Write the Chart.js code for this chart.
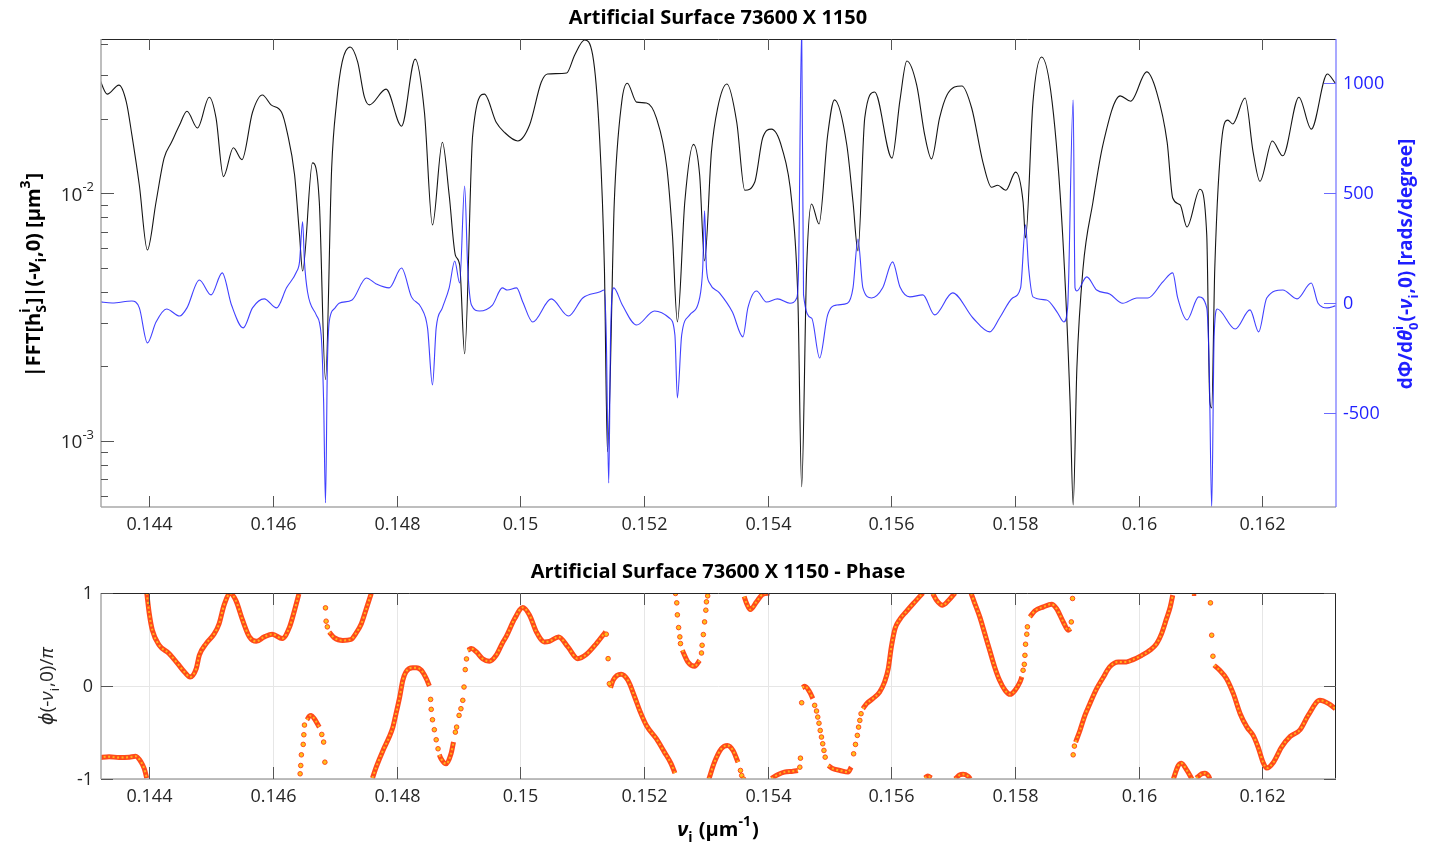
<!DOCTYPE html>
<html>
<head>
<meta charset="utf-8">
<title>Artificial Surface 73600 X 1150</title>
<script src="https://cdn.jsdelivr.net/npm/chart.js@4.4.1/dist/chart.umd.min.js"></script>
<style>
  body { margin: 0; background: #fff; }
  #wrap { position: relative; width: 1429px; height: 850px; background: #fff; }
  canvas { position: absolute; left: 0; }
</style>
</head>
<body>
<div id="wrap">
  <canvas id="magChart" width="1429" height="545" style="top:0"></canvas>
  <canvas id="phaseChart" width="1429" height="305" style="top:545px"></canvas>
</div>
<script>
"use strict";

// ---- data ----
const xTicks = [0.144, 0.146, 0.148, 0.150, 0.152, 0.154, 0.156, 0.158, 0.160, 0.162];
const xTickLabels = ['0.144', '0.146', '0.148', '0.15', '0.152', '0.154', '0.156', '0.158', '0.16', '0.162'];
const magTicks = [0.001, 0.01];
const magTickExp = ['-3', '-2'];
const slopeTicks = [-500, 0, 500, 1000];
const slopeTickLabels = ['-500', '0', '500', '1000'];
const phaseTicks = [-1, 0, 1];
const phaseTickLabels = ['-1', '0', '1'];

// |FFT| magnitude (black, log axis)
const magX = [
  0.14319, 0.14332, 0.14351, 0.14363, 0.14372, 0.14384, 0.14397, 0.14411, 0.14424, 0.14436,
  0.14449, 0.14461, 0.14478, 0.14497, 0.14508, 0.14520, 0.14536, 0.14550, 0.14567, 0.14583,
  0.14597, 0.14614, 0.14623, 0.14635, 0.14643, 0.14648, 0.14664, 0.14675, 0.14685, 0.14695,
  0.14703, 0.14712, 0.14725, 0.14737, 0.14748, 0.14756, 0.14783, 0.14808, 0.14830, 0.14845,
  0.14858, 0.14874, 0.14885, 0.14895, 0.14902, 0.14910, 0.14923, 0.14942, 0.14961, 0.14974,
  0.14996, 0.15015, 0.15034, 0.15044, 0.15075, 0.15088, 0.15104, 0.15117, 0.15128, 0.15136,
  0.15141, 0.15152, 0.15164, 0.15173, 0.15188, 0.15204, 0.15220, 0.15237, 0.15246, 0.15254,
  0.15266, 0.15280, 0.15290, 0.15298, 0.15309, 0.15319, 0.15334, 0.15350, 0.15363, 0.15379,
  0.15392, 0.15406, 0.15423, 0.15439, 0.15449, 0.15455, 0.15463, 0.15471, 0.15483, 0.15497,
  0.15508, 0.15528, 0.15538, 0.15546, 0.15557, 0.15573, 0.15601, 0.15614, 0.15625, 0.15641,
  0.15654, 0.15665, 0.15678, 0.15690, 0.15714, 0.15730, 0.15748, 0.15762, 0.15772, 0.15785,
  0.15801, 0.15813, 0.15817, 0.15829, 0.15843, 0.15860, 0.15877, 0.15889, 0.15894, 0.15900,
  0.15910, 0.15926, 0.15942, 0.15970, 0.15987, 0.16013, 0.16029, 0.16046, 0.16055, 0.16067,
  0.16078, 0.16099, 0.16110, 0.16115, 0.16118, 0.16123, 0.16135, 0.16144, 0.16152, 0.16172,
  0.16185, 0.16196, 0.16216, 0.16233, 0.16259, 0.16279, 0.16305, 0.16318
];
const magY = [
  0.0293, 0.0252, 0.0274, 0.0234, 0.0172, 0.0108, 0.00591, 0.00924, 0.0139, 0.0161,
  0.0189, 0.0215, 0.0184, 0.0245, 0.0202, 0.0117, 0.0153, 0.0137, 0.0213, 0.0250,
  0.0228, 0.0213, 0.0177, 0.0119, 0.00680, 0.00486, 0.0133, 0.00924, 0.00177, 0.0127,
  0.0234, 0.0340, 0.0391, 0.0340, 0.0245, 0.0228, 0.0264, 0.0187, 0.0349, 0.0213,
  0.00746, 0.0161, 0.00986, 0.00564, 0.00514, 0.00225, 0.0172, 0.0252, 0.0194, 0.0177,
  0.0163, 0.0189, 0.0282, 0.0304, 0.0307, 0.0363, 0.0417, 0.0363, 0.0172, 0.00500,
  0.000904, 0.00924, 0.0234, 0.0279, 0.0234, 0.0232, 0.0202, 0.0127, 0.00680, 0.00303,
  0.00924, 0.0158, 0.0119, 0.00534, 0.0147, 0.0221, 0.0277, 0.0194, 0.0103, 0.0111,
  0.0168, 0.0182, 0.0153, 0.00924, 0.00365, 0.000653, 0.00500, 0.00907, 0.00753, 0.0172,
  0.0239, 0.0157, 0.00924, 0.00586, 0.0202, 0.0257, 0.0139, 0.0239, 0.0343, 0.0274,
  0.0172, 0.0138, 0.0202, 0.0250, 0.0272, 0.0221, 0.0134, 0.0106, 0.0108, 0.0103,
  0.0122, 0.00924, 0.00661, 0.0234, 0.0356, 0.0234, 0.00680, 0.00144, 0.000552, 0.00197,
  0.00500, 0.00924, 0.0157, 0.0248, 0.0236, 0.0310, 0.0257, 0.0161, 0.00959, 0.00899,
  0.00732, 0.0104, 0.00680, 0.00144, 0.00136, 0.00500, 0.0172, 0.0198, 0.0191, 0.0243,
  0.0147, 0.0112, 0.0163, 0.0142, 0.0245, 0.0182, 0.0304, 0.0279
];

// dPhi/dtheta slope (blue, right axis)
const slopeX = [
  0.14319, 0.14340, 0.14372, 0.14384, 0.14397, 0.14411, 0.14428, 0.14449, 0.14461, 0.14481,
  0.14500, 0.14518, 0.14533, 0.14552, 0.14567, 0.14586, 0.14606, 0.14622, 0.14638, 0.14643,
  0.14648, 0.14651, 0.14656, 0.14670, 0.14678, 0.14682, 0.14685, 0.14688, 0.14691, 0.14699,
  0.14707, 0.14728, 0.14751, 0.14767, 0.14788, 0.14808, 0.14824, 0.14840, 0.14850, 0.14858,
  0.14864, 0.14874, 0.14885, 0.14894, 0.14902, 0.14910, 0.14915, 0.14921, 0.14934, 0.14955,
  0.14971, 0.14979, 0.14994, 0.15004, 0.15020, 0.15050, 0.15078, 0.15101, 0.15128, 0.15136,
  0.15139, 0.15143, 0.15146, 0.15151, 0.15165, 0.15188, 0.15217, 0.15241, 0.15250, 0.15254,
  0.15261, 0.15274, 0.15290, 0.15295, 0.15298, 0.15301, 0.15306, 0.15322, 0.15343, 0.15360,
  0.15368, 0.15382, 0.15398, 0.15416, 0.15436, 0.15447, 0.15450, 0.15455, 0.15458, 0.15471,
  0.15484, 0.15497, 0.15512, 0.15529, 0.15538, 0.15546, 0.15554, 0.15568, 0.15586, 0.15602,
  0.15614, 0.15630, 0.15651, 0.15670, 0.15699, 0.15732, 0.15759, 0.15775, 0.15796, 0.15809,
  0.15817, 0.15822, 0.15829, 0.15851, 0.15868, 0.15879, 0.15885, 0.15894, 0.15897, 0.15900,
  0.15916, 0.15932, 0.15953, 0.15974, 0.15997, 0.16015, 0.16039, 0.16055, 0.16063, 0.16078,
  0.16097, 0.16110, 0.16114, 0.16118, 0.16122, 0.16127, 0.16156, 0.16180, 0.16194, 0.16207,
  0.16233, 0.16256, 0.16279, 0.16290, 0.16305, 0.16318
];
const slopeY = [
  7, 1, 10, -21, -180, -85, -26, -58, -21, 106,
  38, 138, -8, -112, -21, 20, -21, 70, 142, 188,
  370, 188, 51, -53, -144, -449, -907, -294, -85, -26,
  0, 15, 115, 88, 70, 160, 29, -21, -112, -371,
  -112, -21, 70, 192, 92, 533, 160, -8, -35, -8,
  70, 60, 70, 6, -85, 20, -58, 24, 51, 60,
  -144, -817, -144, 70, -8, -99, -35, -67, -144, -430,
  -144, -53, 24, 160, 420, 160, 92, 47, -40, -153,
  -21, 56, 6, 20, 0, 24, 160, 1250, 38, -67,
  -249, -53, -8, 0, 70, 292, 70, 24, 70, 188,
  74, 29, 38, -53, 47, -67, -130, -67, 24, 70,
  356, 160, 29, 15, -40, -85, -21, 924, 70, 56,
  120, 60, 42, 0, 24, 24, 97, 138, 24, -76,
  29, -21, -294, -930, -144, -26, -117, -30, -130, 24,
  60, 20, 92, 0, -21, -12
];

// phase / pi : continuous runs (wrapped at +-1)
const phaseSegX = [
  [0.14319, 0.14335, 0.14351, 0.14368, 0.14378, 0.14387, 0.14392, 0.14396],
  [0.14396, 0.14400, 0.14405, 0.14416, 0.14432, 0.14446, 0.14457, 0.14466, 0.14476, 0.14481,
   0.14492, 0.14505, 0.14513, 0.14521, 0.14531, 0.14540, 0.14551, 0.14562, 0.14573, 0.14586,
   0.14599, 0.14615, 0.14627, 0.14635, 0.14642],
  [0.14655, 0.14659, 0.14662, 0.14667, 0.14675],
  [0.14691, 0.14699, 0.14713, 0.14726, 0.14734, 0.14743, 0.14751, 0.14759],
  [0.14761, 0.14767, 0.14778, 0.14788, 0.14794, 0.14799, 0.14805, 0.14810, 0.14815, 0.14826,
   0.14832, 0.14840, 0.14848, 0.14853],
  [0.14869, 0.14872, 0.14880, 0.14888, 0.14892],
  [0.14915, 0.14921, 0.14929, 0.14939, 0.14950, 0.14961, 0.14972, 0.14977, 0.14991, 0.15004,
   0.15015, 0.15026, 0.15039, 0.15047, 0.15062, 0.15077, 0.15093, 0.15107, 0.15123, 0.15138],
  [0.15146, 0.15150, 0.15163, 0.15174, 0.15185, 0.15193, 0.15204, 0.15220, 0.15233, 0.15244, 0.15250],
  [0.15262, 0.15271, 0.15282, 0.15290],
  [0.15305, 0.15314, 0.15325, 0.15335, 0.15344, 0.15352],
  [0.15362, 0.15366, 0.15372, 0.15382, 0.15392, 0.15403],
  [0.15406, 0.15417, 0.15427, 0.15441, 0.15449],
  [0.15456, 0.15460, 0.15468, 0.15473],
  [0.15498, 0.15506, 0.15517, 0.15530, 0.15535],
  [0.15554, 0.15560, 0.15570, 0.15581, 0.15589, 0.15595, 0.15600, 0.15606, 0.15614, 0.15624,
   0.15638, 0.15651],
  [0.15654, 0.15659, 0.15665],
  [0.15667, 0.15673, 0.15683, 0.15692, 0.15703],
  [0.15703, 0.15711, 0.15716, 0.15724, 0.15728],
  [0.15729, 0.15735, 0.15743, 0.15751, 0.15759, 0.15767, 0.15775, 0.15784, 0.15792, 0.15800,
   0.15808, 0.15811],
  [0.15824, 0.15832, 0.15846, 0.15859, 0.15867, 0.15878, 0.15886, 0.15890],
  [0.15898, 0.15905, 0.15913, 0.15921, 0.15932, 0.15943, 0.15953, 0.15967, 0.15980, 0.15991,
   0.16005, 0.16018, 0.16029, 0.16037, 0.16045, 0.16051, 0.16055],
  [0.16056, 0.16064, 0.16069, 0.16078, 0.16086],
  [0.16086, 0.16093],
  [0.16093, 0.16102, 0.16107, 0.16113, 0.16115],
  [0.16122, 0.16131, 0.16142, 0.16153, 0.16164, 0.16175, 0.16185, 0.16193, 0.16201, 0.16207,
   0.16218, 0.16231, 0.16245, 0.16261, 0.16274, 0.16293, 0.16307, 0.16318]
];
const phaseSegY = [
  [-0.77, -0.76, -0.77, -0.765, -0.755, -0.82, -0.89, -0.99],
  [1.0, 0.78, 0.60, 0.44, 0.35, 0.24, 0.15, 0.097, 0.187, 0.33,
   0.456, 0.56, 0.67, 0.87, 0.995, 0.92, 0.707, 0.528, 0.48, 0.528,
   0.557, 0.51, 0.636, 0.815, 0.99],
  [-0.363, -0.323, -0.316, -0.352, -0.442],
  [0.58, 0.52, 0.49, 0.5, 0.564, 0.67, 0.83, 0.995],
  [-0.99, -0.873, -0.693, -0.549, -0.442, -0.298, -0.118, 0.061, 0.151, 0.197,
   0.197, 0.169, 0.079, 0.0],
  [-0.74, -0.783, -0.837, -0.729, -0.603],
  [0.384, 0.402, 0.366, 0.294, 0.266, 0.33, 0.474, 0.528, 0.725, 0.844,
   0.761, 0.582, 0.474, 0.48, 0.528, 0.42, 0.294, 0.341, 0.456, 0.582],
  [-0.018, 0.061, 0.126, 0.061, -0.118, -0.262, -0.424, -0.567, -0.711, -0.837, -0.937],
  [0.384, 0.259, 0.212, 0.276],
  [-1.0, -0.819, -0.675, -0.639, -0.693, -0.819],
  [0.962, 0.887, 0.822, 0.905, 0.987, 1.0],
  [-0.995, -0.952, -0.926, -0.916, -0.908],
  [-0.018, -0.004, -0.065, -0.136],
  [-0.855, -0.89, -0.908, -0.926, -0.873],
  [-0.244, -0.19, -0.136, -0.065, 0.043, 0.187, 0.42, 0.618, 0.72, 0.80,
   0.905, 1.0],
  [-0.99, -0.969, -0.99],
  [0.995, 0.923, 0.869, 0.916, 1.0],
  [-1.0, -0.955, -0.95, -0.97, -1.0],
  [0.995, 0.887, 0.743, 0.564, 0.384, 0.205, 0.061, -0.047, -0.09, -0.047,
   0.043, 0.097],
  [0.743, 0.808, 0.851, 0.88, 0.833, 0.689, 0.6, 0.618],
  [-0.603, -0.478, -0.316, -0.19, -0.029, 0.097, 0.205, 0.259, 0.259, 0.284,
   0.33, 0.384, 0.456, 0.564, 0.725, 0.851, 0.977],
  [-1.0, -0.855, -0.83, -0.908, -1.0],
  [0.995, 0.995],
  [-0.99, -0.944, -0.937, -0.97, -1.0],
  [0.223, 0.169, 0.079, -0.083, -0.298, -0.442, -0.531, -0.657, -0.819, -0.883,
   -0.819, -0.657, -0.542, -0.47, -0.316, -0.154, -0.19, -0.244]
];

// phase / pi : isolated samples on the steep parts
const dotX = [
  0.14644, 0.14645, 0.14646, 0.14649, 0.14650, 0.14651, 0.14679, 0.14682, 0.14684,
  0.14685, 0.14686, 0.14688,
  0.14855, 0.14856, 0.14858, 0.14861, 0.14864, 0.14867,
  0.14895, 0.14897, 0.14901, 0.14904, 0.14907, 0.14909, 0.14911, 0.14913,
  0.15139, 0.15142, 0.15144,
  0.15251, 0.15253, 0.15254, 0.15256, 0.15258, 0.15259,
  0.15293, 0.15294, 0.15296, 0.15298, 0.15300, 0.15301, 0.15303,
  0.15356, 0.15358, 0.15361,
  0.15452, 0.15453, 0.15455,
  0.15476, 0.15479, 0.15481, 0.15483, 0.15485, 0.15487, 0.15489, 0.15491, 0.15493,
  0.15539, 0.15542, 0.15545, 0.15547, 0.15549, 0.15551,
  0.15813, 0.15815, 0.15816, 0.15817, 0.15819, 0.15820,
  0.15891, 0.15893, 0.15894, 0.15896,
  0.16116, 0.16118, 0.16120
];
const dotY = [
  -0.944, -0.855, -0.74, -0.628, -0.524, -0.42, -0.521, -0.603, -0.819,
  0.84, 0.697, 0.636,
  -0.144, -0.251, -0.363, -0.47, -0.578, -0.675,
  -0.496, -0.442, -0.316, -0.244, -0.154, -0.011, 0.176, 0.291,
  0.557, 0.294, 0.025,
  0.995, 0.894, 0.765, 0.628, 0.528, 0.456,
  0.355, 0.438, 0.553, 0.689, 0.815, 0.905, 0.969,
  -0.908, -0.962, -1.0,
  -0.873, -0.776, -0.18,
  -0.208, -0.269, -0.334, -0.4, -0.478, -0.549, -0.621, -0.693, -0.765,
  -0.729, -0.628, -0.531, -0.442, -0.37, -0.298,
  0.169, 0.233, 0.33, 0.449, 0.557, 0.636,
  0.689, 0.941, -0.74, -0.646,
  0.894, 0.546, 0.32
];

// ---- drawing helpers ----
const FAMILY = "'Open Sans', 'DejaVu Sans', sans-serif";
const INK = '#262626';
const BLUE = '#1f1fff';

function fontOf(size, bold, italic) {
  return (italic ? 'italic ' : '') + (bold ? 'bold ' : '') + size + 'px ' + FAMILY;
}

// parts: {t} plain, {t, it} italic, {sup, sub} small raised / lowered text
function drawRich(ctx, parts, x, y, o) {
  const size = o.size;
  const small = Math.round(size * 0.68);
  const widths = parts.map(p => {
    if (p.t !== undefined) {
      ctx.font = fontOf(size, o.bold, p.it);
      return ctx.measureText(p.t).width;
    }
    ctx.font = fontOf(small, o.bold, false);
    return Math.max(ctx.measureText(p.sup || '').width, ctx.measureText(p.sub || '').width) + 1;
  });
  const total = widths.reduce((s, w) => s + w, 0);
  ctx.save();
  ctx.translate(x, y);
  if (o.rotate) ctx.rotate(o.rotate);
  ctx.fillStyle = o.color || INK;
  ctx.textBaseline = 'middle';
  ctx.textAlign = 'left';
  let cx = o.align === 'right' ? -total : (o.align === 'left' ? 0 : -total / 2);
  parts.forEach((p, i) => {
    if (p.t !== undefined) {
      ctx.font = fontOf(size, o.bold, p.it);
      ctx.fillText(p.t, cx, 0);
    } else {
      ctx.font = fontOf(small, o.bold, false);
      if (p.sup) ctx.fillText(p.sup, cx, -size * 0.42);
      if (p.sub) ctx.fillText(p.sub, cx, size * 0.4);
    }
    cx += widths[i];
  });
  ctx.restore();
}

function seg(ctx, x1, y1, x2, y2, color, w) {
  ctx.strokeStyle = color;
  ctx.lineWidth = w;
  ctx.beginPath();
  ctx.moveTo(x1, y1);
  ctx.lineTo(x2, y2);
  ctx.stroke();
}

// ---- top chart: magnitude + slope ----
const magDecor = {
  id: 'magDecor',
  afterDatasetsDraw(chart) {
    const { ctx, chartArea: a, scales } = chart;
    const sx = scales.x, sy = scales.y, sr = scales.y1;
    ctx.save();

    // frame
    seg(ctx, a.left, a.top + 0.5, a.right, a.top + 0.5, INK, 1);
    seg(ctx, a.left, a.bottom, a.right, a.bottom, '#a8a8a8', 1.5);
    seg(ctx, a.left, a.top, a.left, a.bottom, '#a8a8a8', 1.5);
    seg(ctx, a.right, a.top, a.right, a.bottom, '#7070ff', 1.2);

    // x ticks (inside, top and bottom) and labels
    xTicks.forEach((v, i) => {
      const px = Math.round(sx.getPixelForValue(v)) + 0.5;
      seg(ctx, px, a.bottom, px, a.bottom - 11, '#555', 1);
      seg(ctx, px, a.top, px, a.top + 11, '#555', 1);
      drawRich(ctx, [{ t: xTickLabels[i] }], px, 525, { size: 18 });
    });

    // left log ticks: majors, minors
    for (let k = -4; k <= -1; k++) {
      for (let m = 1; m <= 9; m++) {
        const v = m * Math.pow(10, k);
        if (v < sy.min || v > sy.max) continue;
        const py = Math.round(sy.getPixelForValue(v)) + 0.5;
        seg(ctx, a.left, py, a.left + (m === 1 ? 13 : 7), py, '#555', 1);
      }
    }
    magTicks.forEach((v, i) => {
      const py = sy.getPixelForValue(v);
      drawRich(ctx, [{ t: '10' }, { sup: magTickExp[i] }], 95, py + 2, { size: 19, align: 'right' });
    });

    // right linear ticks
    slopeTicks.forEach((v, i) => {
      const py = Math.round(sr.getPixelForValue(v)) + 0.5;
      seg(ctx, a.right, py, a.right - 12, py, '#6a6aff', 1);
      drawRich(ctx, [{ t: slopeTickLabels[i] }], 1343, py, { size: 18, align: 'left', color: BLUE });
    });

    // titles
    drawRich(ctx, [{ t: 'Artificial Surface 73600 X 1150' }], 718, 18, { size: 20, bold: true, color: '#000' });
    drawRich(ctx, [
      { t: '|FFT[h' }, { sup: 'i', sub: 'S' }, { t: ']|(-' }, { t: '\u03BD', it: true },
      { sub: 'i' }, { t: ',0) [\u00B5m' }, { sup: '3' }, { t: ']' }
    ], 34, 275, { size: 20, bold: true, color: '#000', rotate: -Math.PI / 2 });
    drawRich(ctx, [
      { t: 'd\u03A6/d' }, { t: '\u03B8', it: true }, { sup: 'i', sub: '0' }, { t: '(-' },
      { t: '\u03BD', it: true }, { sub: 'i' }, { t: ',0) [rads/degree]' }
    ], 1407, 264, { size: 19, bold: true, color: BLUE, rotate: -Math.PI / 2 });

    ctx.restore();
  }
};

new Chart(document.getElementById('magChart'), {
  type: 'line',
  data: {
    datasets: [
      {
        label: 'slope',
        data: slopeX.map((x, i) => ({ x, y: slopeY[i] })),
        yAxisID: 'y1',
        borderColor: 'rgba(30, 30, 255, 0.85)',
        borderWidth: 1.1,
        pointRadius: 0,
        cubicInterpolationMode: 'monotone'
      },
      {
        label: 'magnitude',
        data: magX.map((x, i) => ({ x, y: magY[i] })),
        yAxisID: 'y',
        borderColor: '#151515',
        borderWidth: 1.1,
        pointRadius: 0,
        cubicInterpolationMode: 'monotone'
      }
    ]
  },
  options: {
    responsive: false,
    animation: false,
    devicePixelRatio: 1,
    layout: { padding: { left: 101, right: 93, top: 39, bottom: 38 } },
    plugins: { legend: { display: false }, title: { display: false }, tooltip: { enabled: false } },
    scales: {
      x: { type: 'linear', min: 0.14322, max: 0.16319, display: false },
      y: { type: 'logarithmic', position: 'left', min: 5.41e-4, max: 0.0421, display: false },
      y1: { type: 'linear', position: 'right', min: -926, max: 1201, display: false }
    }
  },
  plugins: [magDecor]
});

// ---- bottom chart: phase ----
const phaseLine = [];
phaseSegX.forEach((xs, k) => {
  xs.forEach((x, i) => phaseLine.push({ x, y: phaseSegY[k][i] }));
  phaseLine.push({ x: xs[xs.length - 1], y: null });
});
const phaseDots = dotX.map((x, i) => ({ x, y: dotY[i] }));

const phaseDecor = {
  id: 'phaseDecor',
  beforeDatasetsDraw(chart) {
    const { ctx, chartArea: a, scales } = chart;
    ctx.save();
    xTicks.forEach(v => {
      const px = Math.round(scales.x.getPixelForValue(v)) + 0.5;
      seg(ctx, px, a.top, px, a.bottom, '#e6e6e6', 1);
    });
    phaseTicks.forEach(v => {
      const py = Math.round(scales.y.getPixelForValue(v)) + 0.5;
      seg(ctx, a.left, py, a.right, py, '#e6e6e6', 1);
    });
    ctx.restore();
  },
  afterDatasetsDraw(chart) {
    const { ctx, chartArea: a, scales } = chart;
    const sx = scales.x, sy = scales.y;
    ctx.save();
    seg(ctx, a.left, a.top + 0.5, a.right, a.top + 0.5, INK, 1);
    seg(ctx, a.right - 0.5, a.top, a.right - 0.5, a.bottom, INK, 1);
    seg(ctx, a.left, a.bottom, a.right, a.bottom, '#a8a8a8', 1.5);
    seg(ctx, a.left, a.top, a.left, a.bottom, '#a8a8a8', 1.5);

    xTicks.forEach((v, i) => {
      const px = Math.round(sx.getPixelForValue(v)) + 0.5;
      seg(ctx, px, a.bottom, px, a.bottom - 12, '#555', 1);
      seg(ctx, px, a.top, px, a.top + 12, '#555', 1);
      drawRich(ctx, [{ t: xTickLabels[i] }], px, 252, { size: 18 });
    });
    phaseTicks.forEach((v, i) => {
      const py = Math.round(sy.getPixelForValue(v)) + 0.5;
      seg(ctx, a.left, py, a.left + 12, py, '#555', 1);
      seg(ctx, a.right, py, a.right - 12, py, '#555', 1);
      drawRich(ctx, [{ t: phaseTickLabels[i] }], 93, py, { size: 18, align: 'right' });
    });

    drawRich(ctx, [{ t: 'Artificial Surface 73600 X 1150 - Phase' }], 718, 27, { size: 20, bold: true, color: '#000' });
    drawRich(ctx, [
      { t: '\u03D5', it: true }, { t: '(-' }, { t: '\u03BD', it: true }, { sub: 'i' }, { t: ',0)/' },
      { t: '\u03C0', it: true }
    ], 48, (a.top + a.bottom) / 2, { size: 19, rotate: -Math.PI / 2 });
    drawRich(ctx, [
      { t: '\u03BD', it: true }, { sub: 'i' }, { t: ' (\u00B5m' }, { sup: '-1' }, { t: ')' }
    ], 718, 285, { size: 20, bold: true, color: '#000' });
    ctx.restore();
  }
};

new Chart(document.getElementById('phaseChart'), {
  type: 'line',
  data: {
    datasets: [
      {
        label: 'phase samples',
        data: phaseDots,
        showLine: false,
        pointRadius: 2.3,
        pointBackgroundColor: '#ffbf1a',
        pointBorderColor: '#ff3c14',
        pointBorderWidth: 0.9
      },
      {
        label: 'phase core',
        data: phaseLine,
        borderColor: '#ffb41c',
        borderWidth: 2,
        borderDash: [2, 2.5],
        pointRadius: 0,
        spanGaps: false,
        cubicInterpolationMode: 'monotone'
      },
      {
        label: 'phase',
        data: phaseLine,
        borderColor: '#ff4a1a',
        borderWidth: 5,
        pointRadius: 0,
        spanGaps: false,
        cubicInterpolationMode: 'monotone'
      }
    ]
  },
  options: {
    responsive: false,
    animation: false,
    devicePixelRatio: 1,
    layout: { padding: { left: 101, right: 93, top: 48, bottom: 71 } },
    plugins: { legend: { display: false }, title: { display: false }, tooltip: { enabled: false } },
    scales: {
      x: { type: 'linear', min: 0.14322, max: 0.16319, display: false },
      y: { type: 'linear', min: -1, max: 1, display: false }
    }
  },
  plugins: [phaseDecor]
});
</script>
</body>
</html>
